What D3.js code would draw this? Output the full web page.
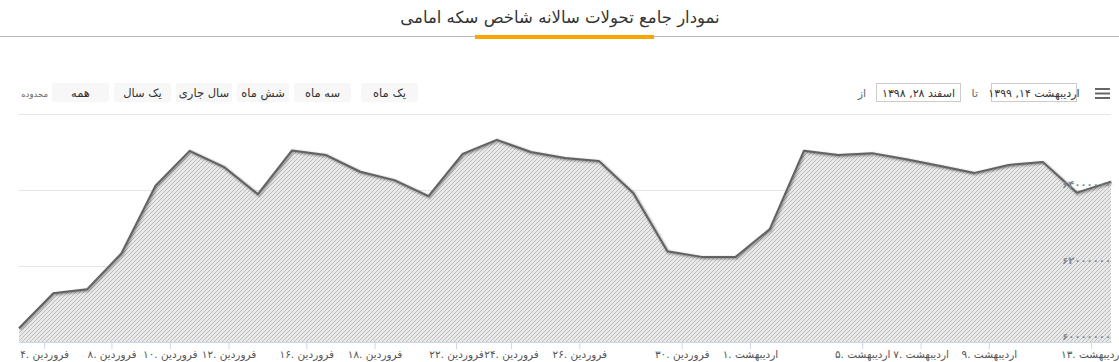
<!DOCTYPE html>
<html><head><meta charset="utf-8">
<script src="https://cdn.jsdelivr.net/npm/d3@7/dist/d3.min.js"></script>
<style>
html,body{margin:0;padding:0;background:#fff;}
svg{display:block;font-family:"DejaVu Sans",sans-serif;}
</style></head>
<body>
<svg id="c" width="1119" height="362"></svg>
<script>
// ---- data ----
const title = "نمودار جامع تحولات سالانه شاخص سکه امامی";
const pointDates = ["1398/12/28","1399/01/05","1399/01/06","1399/01/08","1399/01/09","1399/01/10","1399/01/11",
  "1399/01/14","1399/01/15","1399/01/16","1399/01/17","1399/01/18","1399/01/19","1399/01/22","1399/01/23",
  "1399/01/24","1399/01/25","1399/01/26","1399/01/28","1399/01/29","1399/01/30","1399/01/31","1399/02/01",
  "1399/02/02","1399/02/03","1399/02/05","1399/02/06","1399/02/07","1399/02/08","1399/02/09","1399/02/10",
  "1399/02/12","1399/02/13"];
const prices = [60360000,61280000,61390000,62330000,64110000,65030000,64610000,63890000,65040000,64920000,
  64480000,64260000,63840000,64950000,65320000,65000000,64840000,64760000,63920000,62390000,62240000,
  62240000,62970000,65030000,64920000,64970000,64810000,64630000,64450000,64660000,64740000,63930000,64220000];
const tickDates = ["1399/01/04","1399/01/08","1399/01/10","1399/01/12","1399/01/16","1399/01/18","1399/01/22",
  "1399/01/24","1399/01/26","1399/01/30","1399/02/01","1399/02/05","1399/02/07","1399/02/09","1399/02/13"];
const monthNames = {"12":"اسفند","01":"فروردین","02":"اردیبهشت"};
const yTicks = [60000000,62000000,64000000,66000000];
const yLabelTicks = [60000000,62000000,64000000];
const buttons = ["یک ماه","سه ماه","شش ماه","سال جاری","یک سال","همه"];
const rangeLabel = "محدوده";
const fromText = "اسفند ۲۸, ۱۳۹۸";
const toText = "اردیبهشت ۱۴, ۱۳۹۹";

// ---- helpers ----
const fa = s => String(s).replace(/\d/g, d => "۰۱۲۳۴۵۶۷۸۹"[d]);
function serial(s){ // day number, 1 Farvardin 1399 = 1
  const [y,m,d] = s.split("/").map(Number);
  if (y === 1398) return d - 29;
  return (m-1)*31 + d;
}
const recordHour = 0.58; // points recorded in the afternoon
const pt = pointDates.map(d => serial(d) + recordHour);
function ordinal(t){ // ordinal index position of a time
  for (let i=0;i<pt.length-1;i++){
    if (t >= pt[i] && t < pt[i+1]) return i + (t-pt[i])/(pt[i+1]-pt[i]);
  }
  return t < pt[0] ? 0 : pt.length-1;
}

const svg = d3.select("#c");
const W = 1119;
const plot = {left:19, right:1111, top:114, bottom:342};

// ---- title ----
svg.append("text").attr("x",560).attr("y",23).attr("text-anchor","middle")
  .attr("font-size",16.5).attr("fill","#333").text(title);
svg.append("line").attr("x1",0).attr("x2",W).attr("y1",36.5).attr("y2",36.5).attr("stroke","#bbb").attr("stroke-width",1);
svg.append("rect").attr("x",475).attr("y",35).attr("width",179).attr("height",4).attr("fill","#f8a500");

// ---- range selector buttons ----
const btnX = [361,294,237,176,114,52], btnW=[57,57,52,56,57,57];
buttons.forEach((b,i)=>{
  const g = svg.append("g").attr("transform",`translate(${btnX[i]},83)`);
  g.append("rect").attr("width",btnW[i]).attr("height",19).attr("rx",2).attr("fill","#f7f7f7");
  g.append("text").attr("x",btnW[i]/2).attr("y",13.5).attr("text-anchor","middle").attr("font-size",11.5).attr("fill","#333").text(b);
});
svg.append("text").attr("x",48).attr("y",97).attr("text-anchor","end").attr("font-size",8.5).attr("fill","#666").text(rangeLabel);

// ---- date inputs ----
svg.append("text").attr("x",866).attr("y",97).attr("text-anchor","end").attr("font-size",11).attr("fill","#666").text("از");
svg.append("rect").attr("x",876.5).attr("y",83.5).attr("width",84).attr("height",18).attr("fill","#fff").attr("stroke","#ccc");
svg.append("text").attr("x",918.5).attr("y",97).attr("text-anchor","middle").attr("font-size",11).attr("fill","#333").attr("direction","rtl").text(fromText);
svg.append("text").attr("x",978).attr("y",97).attr("text-anchor","end").attr("font-size",11).attr("fill","#666").text("تا");
svg.append("rect").attr("x",991.5).attr("y",83.5).attr("width",85).attr("height",18).attr("fill","#fff").attr("stroke","#ccc");
svg.append("text").attr("x",1034).attr("y",97).attr("text-anchor","middle").attr("font-size",11).attr("fill","#333").attr("direction","rtl").text(toText);
[89,93.5,98].forEach(y=>svg.append("line").attr("x1",1095).attr("x2",1110).attr("y1",y).attr("y2",y).attr("stroke","#666").attr("stroke-width",2));

// ---- scales ----
const x = d3.scaleLinear().domain([0, prices.length-1]).range([plot.left, plot.right]);
const y = d3.scaleLinear().domain([60000000, 66000000]).range([plot.bottom, plot.top]);

// gridlines
svg.append("g").selectAll("line").data(yTicks).join("line")
  .attr("x1",plot.left).attr("x2",plot.right)
  .attr("y1",d=>Math.round(y(d))+0.5).attr("y2",d=>Math.round(y(d))+0.5)
  .attr("stroke","#e6e6e6").attr("stroke-width",1);

// pattern
const defs = svg.append("defs");
const pat = defs.append("pattern").attr("id","hatch").attr("patternUnits","userSpaceOnUse").attr("width",4).attr("height",4);
pat.append("rect").attr("width",4).attr("height",4).attr("fill","#e9e9e9");
pat.append("path").attr("d","M-1,1 L1,-1 M0,4 L4,0 M3,5 L5,3").attr("stroke","#bdbdbd").attr("stroke-width",1);

const area = d3.area().x((d,i)=>x(i)).y0(y(60000000)).y1(d=>y(d));
const line = d3.line().x((d,i)=>x(i)).y(d=>y(d));
svg.append("path").datum(prices).attr("d",area).attr("fill","url(#hatch)");

// shadow
[[6,0.05],[4,0.1],[2,0.15]].forEach(([w,o])=>{
  svg.append("path").datum(prices).attr("d",line).attr("fill","none").attr("stroke","#000")
    .attr("stroke-opacity",o).attr("stroke-width",w).attr("transform","translate(1,1)").attr("stroke-linejoin","round");
});
svg.append("path").datum(prices).attr("d",line).attr("fill","none").attr("stroke","#626262").attr("stroke-width",2).attr("stroke-linejoin","round");

// y labels
svg.append("g").selectAll("text").data(yLabelTicks).join("text")
  .attr("x",plot.right).attr("y",d=>y(d)-2).attr("text-anchor","end")
  .attr("font-size",10).attr("letter-spacing",2).attr("font-weight","bold").attr("fill","#7d8796").text(d=>fa(d));

// x axis
const tickPos = tickDates.map(d=>ordinal(serial(d)));
const tickLabels = tickDates.map(d=>{const [yy,m,dd]=d.split("/"); return fa(Number(dd))+". "+monthNames[m];});
const xAxis = d3.axisBottom(x).tickValues(tickPos).tickSize(7).tickSizeOuter(0).tickFormat((d,i)=>tickLabels[i]);
const gx = svg.append("g").attr("transform",`translate(0,${plot.bottom})`).call(xAxis);
gx.select(".domain").attr("stroke","#ccd6eb");
gx.selectAll(".tick line").attr("stroke","#ccd6eb");
gx.selectAll(".tick text").attr("fill","#555").attr("font-size",10.5).attr("font-family","DejaVu Sans").attr("dy","0.6em");
</script>
</body></html>
